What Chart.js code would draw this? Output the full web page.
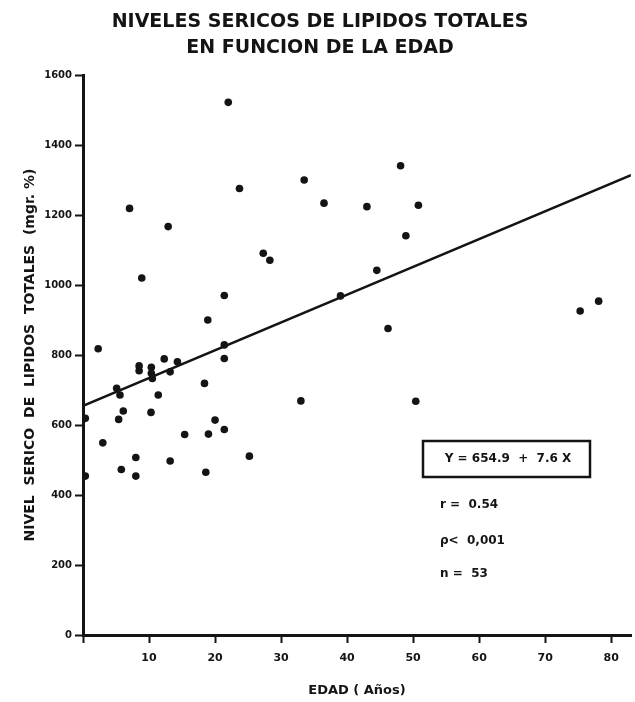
<!DOCTYPE html>
<html>
<head>
<meta charset="utf-8">
<script src="https://cdn.jsdelivr.net/npm/chart.js@4"></script>
<style>
  html, body { margin: 0; padding: 0; background: #fff; }
  #wrap { width: 635px; height: 702px; }
</style>
</head>
<body>
<div id="wrap"><canvas id="graph"></canvas></div>
<script>
// ages (years) and total serum lipids (mgr %)
var ages = [22.0, 23.7, 7.05, 12.9, 27.3, 28.3, 8.9, 33.5, 36.5, 43.0,
            48.1, 50.8, 48.9, 44.5, 75.3, 78.1, 50.4, 21.4, 18.9, 21.4,
            21.4, 39.0, 46.2, 18.4, 33.0, 20.0, 15.4, 19.0, 21.4, 25.2,
            18.6, 2.3, 12.3, 8.5, 8.5, 10.35, 10.35, 14.3, 13.2, 10.5,
            5.1, 5.6, 11.4, 6.1, 5.4, 10.3, 0.35, 3.0, 8.0, 13.2,
            5.8, 8.0, 0.35];
var lipids = [1522, 1276, 1219, 1167, 1091, 1071, 1020, 1300, 1234, 1224,
              1341, 1228, 1141, 1042, 926, 954, 668, 970, 900, 829,
              790, 969, 876, 719, 669, 614, 573, 574, 587, 511,
              465, 818, 789, 769, 755, 765, 748, 781, 752, 733,
              705, 686, 686, 640, 616, 636, 619, 549, 507, 497,
              473, 454, 454];

// regression line end points (Y = 654.9 + 7.6 X)
var lineX = [0, 83];
var lineY = [655, 1314];

var titleLines = ['NIVELES SERICOS DE LIPIDOS TOTALES', 'EN FUNCION DE LA EDAD'];
var yTitle = 'NIVEL  SERICO  DE  LIPIDOS  TOTALES  (mgr. %)';
var xTitle = 'EDAD ( Años)';
var statLines = ['r =  0.54', 'ρ<  0,001', 'n =  53'];
var equation = 'Y = 654.9  +  7.6 X';

var ink = '#141414';
var fontFam = '"DejaVu Sans", "Liberation Sans", sans-serif';

var points = ages.map(function (a, i) { return { x: a, y: lipids[i] }; });
var fitLine = lineX.map(function (a, i) { return { x: a, y: lineY[i] }; });

// draws the equation box and the statistics text
var statsPlugin = {
    id: 'stats',
    afterDraw: function (chart) {
        var c = chart.ctx;
        c.save();
        c.strokeStyle = ink;
        c.lineWidth = 2.5;
        c.strokeRect(423, 441, 167, 36);
        c.fillStyle = ink;
        c.font = 'bold 12px ' + fontFam;
        c.textAlign = 'center';
        c.textBaseline = 'middle';
        c.fillText(equation, 508, 459);
        c.textAlign = 'left';
        var ys = [505, 541, 574];
        statLines.forEach(function (t, i) {
            c.fillText(t, 440, ys[i]);
        });
        c.restore();
    }
};

var ctx = document.getElementById('graph').getContext('2d');
var myChart = new Chart(ctx, {
    type: 'scatter',
    data: {
        datasets: [{
            label: 'Lipidos',
            data: points,
            pointRadius: 3.8,
            pointBackgroundColor: ink,
            pointBorderColor: ink,
            pointBorderWidth: 0,
            showLine: false
        }, {
            label: 'Regresion',
            data: fitLine,
            showLine: true,
            borderColor: ink,
            borderWidth: 2.5,
            pointRadius: 0,
            fill: false
        }]
    },
    options: {
        responsive: true,
        maintainAspectRatio: false,
        animation: false,
        layout: {
            padding: { top: 8, left: 8, right: 3, bottom: 0 }
        },
        scales: {
            x: {
                type: 'linear',
                min: 0,
                max: 83,
                afterFit: function (scale) { scale.height = 67; },
                ticks: {
                    stepSize: 10,
                    includeBounds: false,
                    color: ink,
                    padding: 9,
                    maxRotation: 0,
                    font: { family: fontFam, size: 11, weight: 'bold' },
                    callback: function (v) { return v === 0 ? '' : String(v); }
                },
                grid: {
                    drawOnChartArea: false,
                    drawTicks: true,
                    tickLength: 8,
                    tickWidth: 2,
                    tickColor: ink
                },
                border: { color: ink, width: 3 },
                title: {
                    display: true,
                    text: xTitle,
                    color: ink,
                    padding: { top: 0, bottom: 4 },
                    font: { family: fontFam, size: 13, weight: 'bold' }
                }
            },
            y: {
                min: 0,
                max: 1600,
                afterFit: function (scale) { scale.width = 75; },
                ticks: {
                    stepSize: 200,
                    color: ink,
                    padding: 3,
                    font: { family: fontFam, size: 10, weight: 'bold' },
                    callback: function (v) { return String(v); }
                },
                grid: {
                    drawOnChartArea: false,
                    drawTicks: true,
                    tickLength: 8,
                    tickWidth: 2,
                    tickColor: ink
                },
                border: { color: ink, width: 3 },
                title: {
                    display: true,
                    text: yTitle,
                    color: ink,
                    padding: { top: 14, bottom: 0 },
                    font: { family: fontFam, size: 14, weight: 'bold' }
                }
            }
        },
        plugins: {
            title: {
                display: true,
                text: titleLines,
                color: ink,
                padding: { top: 1, bottom: 14 },
                font: { family: fontFam, size: 19, weight: 'bold', lineHeight: 1.37 }
            },
            legend: { display: false },
            tooltip: { enabled: false }
        }
    },
    plugins: [statsPlugin]
});
</script>
</body>
</html>
